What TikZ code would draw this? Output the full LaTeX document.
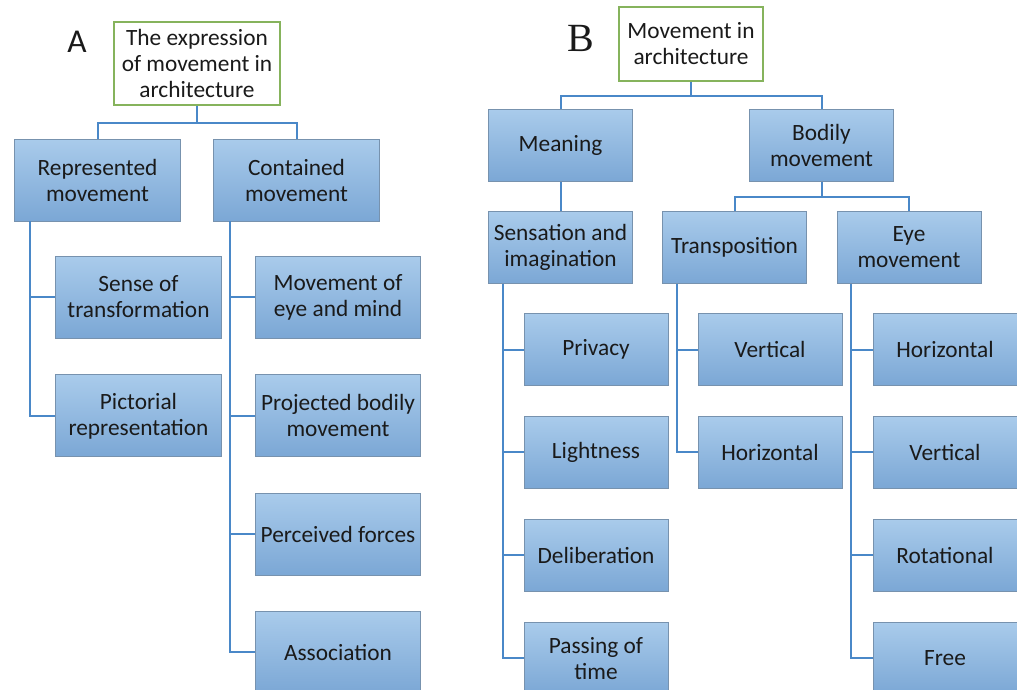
\documentclass[tikz,border=0pt]{standalone}
\usepackage{fontspec}
\setmainfont{Carlito}
\newfontfamily\serifB{Liberation Serif}
\usetikzlibrary{positioning}

\definecolor{boxtop}{HTML}{A9CBEB}
\definecolor{boxbot}{HTML}{7BA7D5}
\definecolor{boxline}{HTML}{7792AE}
\definecolor{rootline}{HTML}{86B35C}
\definecolor{linkblue}{HTML}{4A88C8}
\definecolor{txt}{HTML}{1A1A1A}

\tikzstyle{boxA} = [rectangle, minimum width=124pt, minimum height=61.5pt, align=center, draw=boxline, line width=0.7pt, top color=boxtop, bottom color=boxbot, text=txt, inner sep=1pt, font=\fontsize{17.5}{19.5}\selectfont]
\tikzstyle{boxB} = [boxA, minimum width=108pt, minimum height=54pt]
\tikzstyle{rootbox} = [rectangle, align=center, draw=rootline, line width=1.3pt, fill=white, text=txt, inner sep=1pt, font=\fontsize{17.5}{19.5}\selectfont]
\tikzstyle{link} = [draw=linkblue, line width=1.5pt]

\begin{document}
\begin{tikzpicture}[x=0.75pt, y=-0.75pt]
  \useasboundingbox (0,0) rectangle (1017,689);

  % part A
  \node (labelA) at (77,42) [text=txt, font=\fontsize{25}{25}\selectfont] {A};
  \node (rootA) at (197,63.5) [rootbox, minimum width=124.5pt, minimum height=62pt] {The expression\\of movement in\\architecture};
  \node (represented) at (97.5,180) [boxA] {Represented\\movement};
  \node (contained) at (296.5,180) [boxA] {Contained\\movement};

  \node (sense) at (138.5,297) [boxA] {Sense of\\transformation};
  \node (pictorial) [boxA, below=27pt of sense] {Pictorial\\representation};

  \node (eyemind) at (338,297) [boxA] {Movement of\\eye and mind};
  \node (projected) [boxA, below=27pt of eyemind] {Projected bodily\\movement};
  \node (forces) [boxA, below=26.5pt of projected] {Perceived forces};
  \node (association) [boxA, below=26.5pt of forces] {Association};

  \draw [link] (rootA.south) -- ++(0,17) -| (represented.north);
  \draw [link] (rootA.south) -- ++(0,17) -| (contained.north);
  \draw [link] (represented.south west) ++(16,0) |- (sense.west);
  \draw [link] (represented.south west) ++(16,0) |- (pictorial.west);
  \draw [link] (contained.south west) ++(17,0) |- (eyemind.west);
  \draw [link] (contained.south west) ++(17,0) |- (projected.west);
  \draw [link] (contained.south west) ++(17,0) |- (forces.west);
  \draw [link] (contained.south west) ++(17,0) |- (association.west);

  % part B
  \node (labelB) at (581,38) [text=txt, font=\serifB\fontsize{30}{30}\selectfont] {B};
  \node (rootB) at (691,44) [rootbox, minimum width=108pt, minimum height=55.5pt] {Movement in\\architecture};
  \node (meaning) at (560.5,145.5) [boxB] {Meaning};
  \node (bodily) at (821.5,145.5) [boxB] {Bodily\\movement};
  \node (sensation) at (560.5,247.5) [boxB] {Sensation and\\imagination};
  \node (transposition) at (734.5,247.5) [boxB] {Transposition};
  \node (eyemove) at (909,247.5) [boxB] {Eye\\movement};

  \node (privacy) at (596,349.5) [boxB] {Privacy};
  \node (lightness) [boxB, below=22.5pt of privacy] {Lightness};
  \node (deliberation) [boxB, below=22.5pt of lightness] {Deliberation};
  \node (passing) [boxB, below=22.5pt of deliberation] {Passing of\\time};

  \node (tvertical) at (770,349.5) [boxB] {Vertical};
  \node (thorizontal) [boxB, below=22.5pt of tvertical] {Horizontal};

  \node (ehorizontal) at (945,349.5) [boxB] {Horizontal};
  \node (evertical) [boxB, below=22.5pt of ehorizontal] {Vertical};
  \node (rotational) [boxB, below=22.5pt of evertical] {Rotational};
  \node (free) [boxB, below=22.5pt of rotational] {Free};

  \draw [link] (rootB.south) -- ++(0,14) -| (meaning.north);
  \draw [link] (rootB.south) -- ++(0,14) -| (bodily.north);
  \draw [link] (meaning.south) -- (sensation.north);
  \draw [link] (bodily.south) -- ++(0,15) -| (transposition.north);
  \draw [link] (bodily.south) -- ++(0,15) -| (eyemove.north);
  \draw [link] (sensation.south west) ++(15,0) |- (privacy.west);
  \draw [link] (sensation.south west) ++(15,0) |- (lightness.west);
  \draw [link] (sensation.south west) ++(15,0) |- (deliberation.west);
  \draw [link] (sensation.south west) ++(15,0) |- (passing.west);
  \draw [link] (transposition.south west) ++(15,0) |- (tvertical.west);
  \draw [link] (transposition.south west) ++(15,0) |- (thorizontal.west);
  \draw [link] (eyemove.south west) ++(14,0) |- (ehorizontal.west);
  \draw [link] (eyemove.south west) ++(14,0) |- (evertical.west);
  \draw [link] (eyemove.south west) ++(14,0) |- (rotational.west);
  \draw [link] (eyemove.south west) ++(14,0) |- (free.west);
\end{tikzpicture}
\end{document}
